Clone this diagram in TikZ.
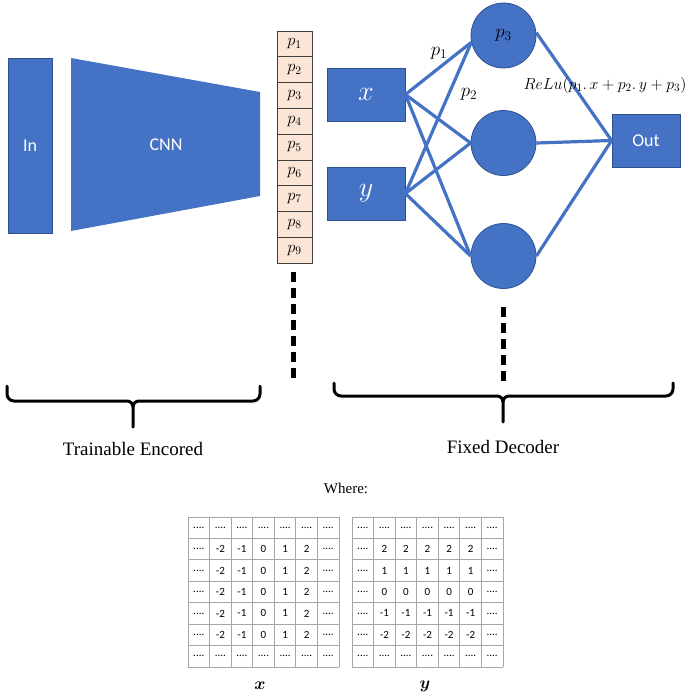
\RequirePackage{fix-cm}
\documentclass[tikz,border=0pt]{standalone}
\usepackage{bm}
\usepackage{fontspec}
\newfontfamily\calibri{Carlito}
\newfontfamily\timesrm{Liberation Serif}
\usetikzlibrary{arrows}
\definecolor{nnblue}{HTML}{4472C4}
\definecolor{nnedge}{HTML}{2F528F}
\definecolor{peach}{HTML}{FBE5D6}
\definecolor{gridgray}{HTML}{A6A6A6}
\tikzset{
  block/.style={draw=nnedge, line width=0.8pt, fill=nnblue, text=white, inner sep=0pt},
  neuron/.style={circle, draw=nnedge, line width=0.8pt, fill=nnblue, minimum size=65pt, inner sep=0pt},
  pcell/.style={draw=black!75, line width=0.8pt, fill=peach, minimum width=35pt, minimum height=25.78pt, inner sep=0pt, font=\fontsize{16.5}{16.5}\selectfont},
  wire/.style={nnblue, line width=3.2pt},
  brace/.style={line width=3pt, line cap=round, line join=round},
  sep/.style={line width=5pt, dash pattern=on 10pt off 6pt},
  cellnum/.style={inner sep=0pt, font=\calibri\fontsize{11}{11}\selectfont},
  gridline/.style={gridgray, line width=1pt},
  blocktext/.style={font=\calibri\fontsize{18}{18}\selectfont},
  caption/.style={font=\timesrm\fontsize{19}{19}\selectfont}
}
\begin{document}
\begin{tikzpicture}[x=1pt,y=-1pt]
\useasboundingbox (0,0) rectangle (700,699);
\node[block, blocktext, minimum width=44pt, minimum height=175pt] (in) at (30,145.5) {In};
\fill[nnblue] (71,58) -- (260,92) -- (260,196) -- (71,231) -- cycle;
\node[blocktext, text=white] (cnn) at (166,145) {CNN};
\foreach \i in {1,...,9}
  \node[pcell] (p\i) at (294.5,{31+25.78*(\i-0.5)}) {$p_{\i}$};
\node[block, minimum width=78pt, minimum height=53pt, font=\fontsize{28}{28}\selectfont] (xin) at (366,94.5) {$x$};
\node[block, minimum width=78pt, minimum height=53pt, font=\fontsize{28}{28}\selectfont] (yin) at (366,193.5) {$y$};
\node[neuron, font=\fontsize{19}{19}\selectfont] (h1) at (503.5,35.5) {$p_3$};
\node[neuron] (h2) at (503.5,143) {};
\node[neuron] (h3) at (503.5,256) {};
\node[block, blocktext, minimum width=68pt, minimum height=53pt] (out) at (646,140.5) {Out};
\foreach \s in {xin,yin} {
  \draw[wire] (\s.east) -- (h1.192);
  \draw[wire] (\s.east) -- (h2.west);
  \draw[wire] (\s.east) -- (h3.west);
}
\draw[wire] (h1.5) -- (out.west);
\draw[wire] (h2.east) -- (out.west);
\draw[wire] (h3.east) -- (out.west);
\node[font=\fontsize{19}{19}\selectfont] (w1) at (439,53) {$p_1$};
\node[font=\fontsize{19}{19}\selectfont] (w2) at (469,94) {$p_2$};
\node[font=\fontsize{16}{16}\selectfont] (relu) at (605,85) {$ReLu(p_1.\,x+p_2.\,y+p_3)$};
\draw[sep] (293,272) -- (293,382);
\draw[sep] (503,307) -- (503,382);
\draw[brace] (7,386) -- (7,394) to[out=-90,in=180] (14,401) -- (127,401) to[out=0,in=90] (133,407) -- (133,427);
\draw[brace] (260,386) -- (260,394) to[out=-90,in=0] (253,401) -- (139,401) to[out=180,in=90] (133,407);
\draw[brace] (334,383) -- (334,389) to[out=-90,in=180] (341,396) -- (497,396) to[out=0,in=90] (503,402) -- (503,422);
\draw[brace] (673,383) -- (673,389) to[out=-90,in=0] (666,396) -- (509,396) to[out=180,in=90] (503,402);
\node[caption] (enc) at (133,449) {Trainable Encored};
\node[caption] (dec) at (503,447) {Fixed Decoder};
\node[font=\timesrm\fontsize{15}{15}\selectfont] (where) at (346,488) {Where:};
\foreach \k in {0,...,7} {
  \draw[gridline] ({188+\k*151/7},517) -- ({188+\k*151/7},667);
  \draw[gridline] (188,{517+\k*150/7}) -- (339,{517+\k*150/7});
  \draw[gridline] ({352+\k*151/7},517) -- ({352+\k*151/7},667);
  \draw[gridline] (352,{517+\k*150/7}) -- (503,{517+\k*150/7});
}
\foreach \r in {1,...,7}
  \foreach \c in {1,...,7} {
    \pgfmathtruncatemacro\xval{\c-4}
    \pgfmathtruncatemacro\yval{4-\r}
    \pgfmathtruncatemacro\rim{(\r==1)||(\r==7)||(\c==1)||(\c==7)}
    \ifnum\rim=1 \def\xtxt{....}\def\ytxt{....}\else \edef\xtxt{\xval}\edef\ytxt{\yval}\fi
    \node[cellnum] (xc\r\c) at ({188+151/7*(\c-0.5)},{517+150/7*(\r-0.5)}) {\xtxt};
    \node[cellnum] (yc\r\c) at ({352+151/7*(\c-0.5)},{517+150/7*(\r-0.5)}) {\ytxt};
  }
\node[font=\fontsize{17}{17}\selectfont] (xlab) at (260,686) {$\bm{x}$};
\node[font=\fontsize{17}{17}\selectfont] (ylab) at (425,686) {$\bm{y}$};
\end{tikzpicture}
\end{document}
